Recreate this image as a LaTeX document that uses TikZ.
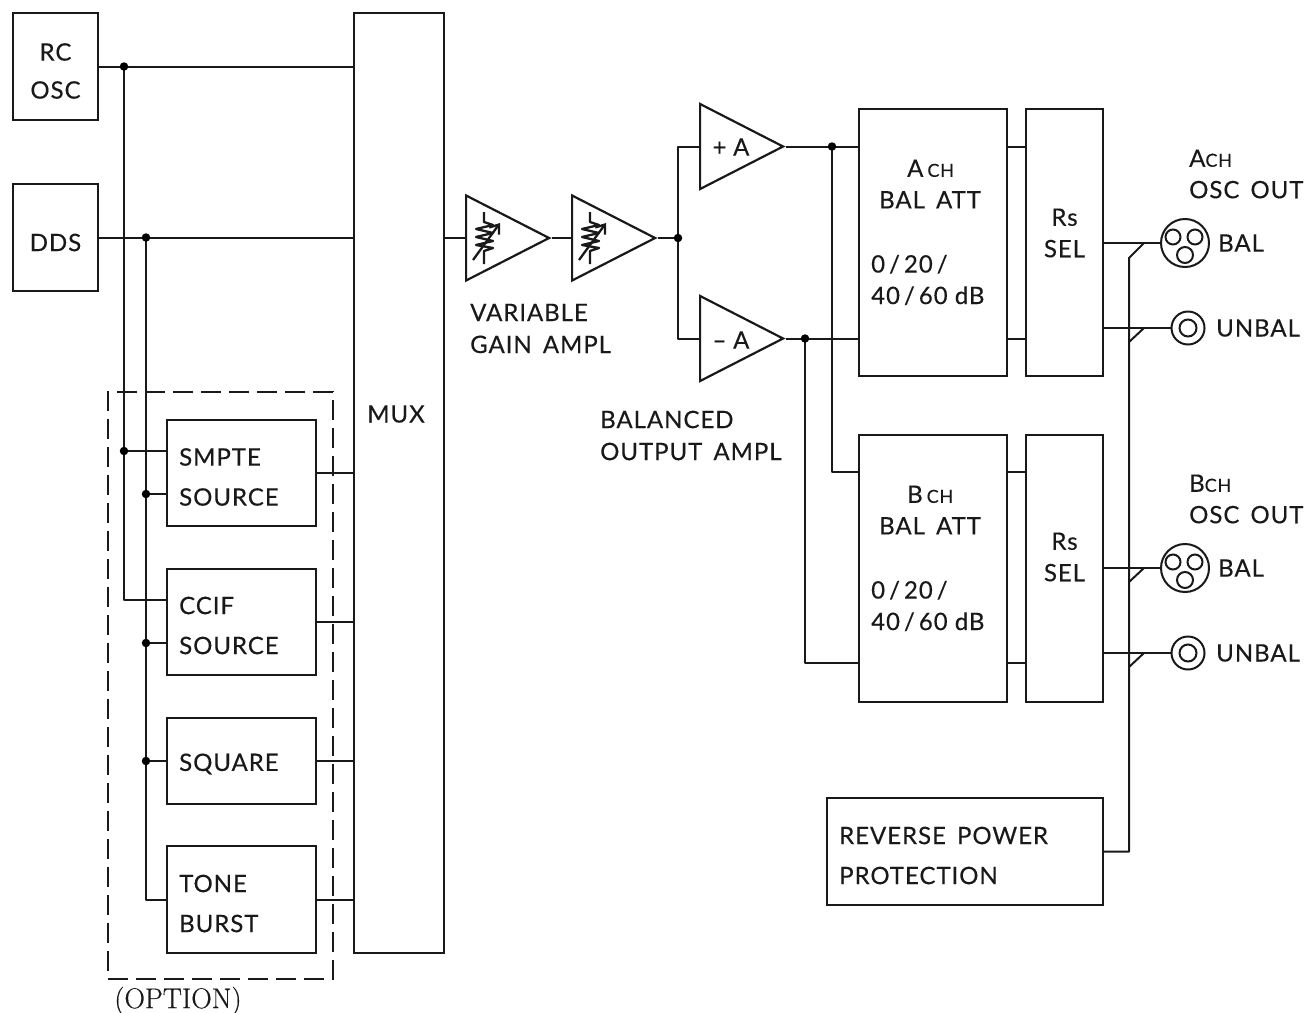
\documentclass[tikz,border=0pt]{standalone}
\usepackage{fontspec}
\setmainfont[LetterSpace=4,FakeBold=0.3]{Lato}
\newfontfamily\optfont[FakeBold=0.4]{Latin Modern Roman}
\usetikzlibrary{shapes.geometric,arrows.meta,calc}
\tikzset{
  every node/.style={font=\fontsize{24}{40}\selectfont,text=black!90},
  wire/.style={line width=2pt,black!90,line join=round},
  box/.style={draw=black!90,line width=2.2pt,inner sep=0pt},
  amp/.style={draw=black!90,line width=2.2pt,isosceles triangle,isosceles triangle stretches,inner sep=0pt,minimum width=85pt,minimum height=83pt,anchor=lower side},
  dot/.style={circle,fill=black,inner sep=0pt,minimum size=8.5pt},
  jack/.style={circle,draw=black!90,line width=2pt,inner sep=0pt},
  lab/.style={align=left,anchor=west,inner sep=0pt},
  tight/.style={font=\fontsize{24}{31.5}\selectfont},
  ctr/.style={align=center,inner sep=0pt},
  varres/.pic={
    \draw[line width=2.3pt,black!90,line join=round] (19,-26) -- (19,-16) -- (28,-13) -- (11,-9) -- (28,-5) -- (11,-1) -- (28,3) -- (11,7) -- (28,10) -- (19,13) -- (19,26);
    \draw[line width=2.3pt,black!90,-{Straight Barb[length=8pt,width=12pt]}] (8,22) -- (35,-15);
  }
}
\begin{document}
\begin{tikzpicture}[x=1pt,y=-1pt]
\useasboundingbox[fill=white] (0,0) rectangle (1305,1012);
% left blocks
\node[box,minimum width=85pt,minimum height=107pt] (rc) at (55.5,66.5) {};
\node[ctr,font=\fontsize{24}{38}\selectfont] (rct) at ($(rc)+(0,4.5)$) {RC\\OSC};
\node[box,minimum width=85pt,minimum height=107pt] (dds) at (55.5,237.5) {};
\node[ctr] (ddst) at ($(dds)+(0,5)$) {DDS};
\node[box,minimum width=90pt,minimum height=940pt] (mux) at (399,483) {};
\node[ctr] (muxt) at (396,414) {MUX};
\node[box,minimum width=149pt,minimum height=106pt] (smpte) at (241.5,473) {};
\node[lab] (smptet) at (179,477) {SMPTE\\SOURCE};
\node[box,minimum width=149pt,minimum height=106pt] (ccif) at (241.5,622) {};
\node[lab] (ccift) at (179,625.5) {CCIF\\SOURCE};
\node[box,minimum width=149pt,minimum height=86pt] (square) at (241.5,761) {};
\node[lab] (squaret) at (179,764) {SQUARE};
\node[box,minimum width=149pt,minimum height=107pt] (tone) at (241.5,899.5) {};
\node[lab] (tonet) at (179,903.5) {TONE\\BURST};
\node[draw=black!90,line width=2pt,dash pattern=on 20pt off 8pt,minimum width=225pt,minimum height=587pt,inner sep=0pt] (opt) at (220.5,685.5) {};
\node[font=\optfont\fontsize{28.5}{30}\selectfont,inner sep=0pt] (optt) at (178,1001) {(OPTION)};
% amps
\node[amp] (v1) at (465,238) {};
\node[amp] (v2) at (571,238) {};
\pic at (v1.lower side) {varres};
\pic at (v2.lower side) {varres};
\node[lab,font=\fontsize{24}{32}\selectfont] (vt) at (470,328.5) {VARIABLE\\GAIN\, AMPL};
\node[amp] (pa) at (699,146.5) {};
\node[amp] (ma) at (699,338.5) {};
\node (pat) at (731,147) {+\;A};
\node (mat) at (731,340) {–\;A};
\node[lab,font=\fontsize{24}{32}\selectfont] (bt) at (600,435.5) {BALANCED\\OUTPUT\, AMPL};
% attenuators
\node[box,minimum width=148pt,minimum height=267pt] (aatt) at (933,242.5) {};
\node[lab,tight] (aatt1) at (879,184) {\hspace*{28pt}A\,{\fontsize{18}{20}\selectfont CH}\\BAL\, ATT};
\node[lab,tight] (aatt2) at (871,280) {0\,/\,20\,/\\40\,/\,60 dB};
\node[box,minimum width=77pt,minimum height=267pt] (ars) at (1064.5,242.5) {};
\node[ctr,tight] (arst) at (1064.5,233) {Rs\\SEL};
\node[box,minimum width=148pt,minimum height=267pt] (batt) at (933,568.5) {};
\node[lab,tight] (batt1) at (879,510) {\hspace*{28pt}B\,{\fontsize{18}{20}\selectfont CH}\\BAL\, ATT};
\node[lab,tight] (batt2) at (871,606) {0\,/\,20\,/\\40\,/\,60 dB};
\node[box,minimum width=77pt,minimum height=267pt] (brs) at (1064.5,568.5) {};
\node[ctr,tight] (brst) at (1064.5,557) {Rs\\SEL};
\node[box,minimum width=276pt,minimum height=107pt] (rev) at (965,851.5) {};
\node[lab] (revt) at (839,855.5) {REVERSE\, POWER\\PROTECTION};
% output labels
\node[lab,tight] (aout) at (1189,174) {A{\fontsize{18}{20}\selectfont CH}\\OSC\, OUT};
\node[lab,tight] (bout) at (1189,499) {B{\fontsize{18}{20}\selectfont CH}\\OSC\, OUT};
\node[lab] (abal) at (1218,243) {BAL};
\node[lab] (aunb) at (1216,328) {UNBAL};
\node[lab] (bbal) at (1218,568) {BAL};
\node[lab] (bunb) at (1216,653) {UNBAL};
% jacks
\node[jack,minimum size=48pt] (j1) at (1185,243) {};
\node[jack,minimum size=15pt] at (1173,237) {};
\node[jack,minimum size=15pt] at (1195,237) {};
\node[jack,minimum size=16pt] at (1185,255) {};
\node[jack,minimum size=33pt] (j2) at (1188,328) {};
\node[jack,minimum size=17pt] at (1188,328) {};
\node[jack,minimum size=48pt] (j3) at (1185,568) {};
\node[jack,minimum size=15pt] at (1173,562) {};
\node[jack,minimum size=15pt] at (1195,562) {};
\node[jack,minimum size=16pt] at (1185,580) {};
\node[jack,minimum size=33pt] (j4) at (1188,653) {};
\node[jack,minimum size=17pt] at (1188,653) {};
% junction coordinates
\coordinate (n1) at (124,66.5);
\coordinate (n2) at (124,451);
\coordinate (n3) at (146,237.5);
\coordinate (n4) at (146,494);
\coordinate (n5) at (146,643);
\coordinate (n6) at (146,761);
\coordinate (n7) at (678,238);
\coordinate (n8) at (832,146.5);
\coordinate (n9) at (805,338.5);
\coordinate (ccifin) at (167,600);
\coordinate (tonein) at (167,899.5);
\coordinate (bin1) at (859,472);
\coordinate (bin2) at (859,663);
\coordinate (pr) at (1129,851.5);
\coordinate (pt) at (1129,258);
% wires
\draw[wire] (rc.east) -- (rc.east -| mux.west);
\draw[wire] (dds.east) -- (dds.east -| mux.west);
\draw[wire] (n1) -- (n1 |- ccifin) -- (ccifin);
\draw[wire] (n2) -- (n2 -| smpte.west);
\draw[wire] (n3) -- (n3 |- tonein) -- (tonein);
\draw[wire] (n4) -- (n4 -| smpte.west);
\draw[wire] (n5) -- (n5 -| ccif.west);
\draw[wire] (n6) -- (n6 -| square.west);
\draw[wire] (smpte.east) -- (smpte.east -| mux.west);
\draw[wire] (ccif.east) -- (ccif.east -| mux.west);
\draw[wire] (square.east) -- (square.east -| mux.west);
\draw[wire] (tone.east) -- (tone.east -| mux.west);
\draw[wire] (mux.east |- v1.lower side) -- (v1.lower side);
\draw[wire] (v1.apex) -- (v2.lower side);
\draw[wire] (v2.apex) -- (n7);
\draw[wire] (pa.lower side) -- (pa.lower side -| n7) -- (ma.lower side -| n7) -- (ma.lower side);
\draw[wire] (pa.apex) -- (pa.apex -| aatt.west);
\draw[wire] (ma.apex) -- (ma.apex -| aatt.west);
\draw[wire] (n8) -- (n8 |- bin1) -- (bin1);
\draw[wire] (n9) -- (n9 |- bin2) -- (bin2);
\draw[wire] (aatt.east |- n8) -- (n8 -| ars.west);
\draw[wire] (aatt.east |- n9) -- (n9 -| ars.west);
\draw[wire] (batt.east |- bin1) -- (bin1 -| brs.west);
\draw[wire] (batt.east |- bin2) -- (bin2 -| brs.west);
\draw[wire] (ars.east |- j1) -- (j1.west);
\draw[wire] (ars.east |- j2) -- (j2.west);
\draw[wire] (brs.east |- j3) -- (j3.west);
\draw[wire] (brs.east |- j4) -- (j4.west);
\draw[wire] (rev.east |- pr) -- (pr) -- (pt) -- ($(pt)+(15,-15)$);
\draw[wire] (1129,342) -- (1144,328);
\draw[wire] (1129,582) -- (1144,568);
\draw[wire] (1129,667) -- (1144,653);
% dots
\foreach \k in {n1,n2,n3,n4,n5,n6,n7,n8,n9} \node[dot] at (\k) {};
\end{tikzpicture}
\end{document}
